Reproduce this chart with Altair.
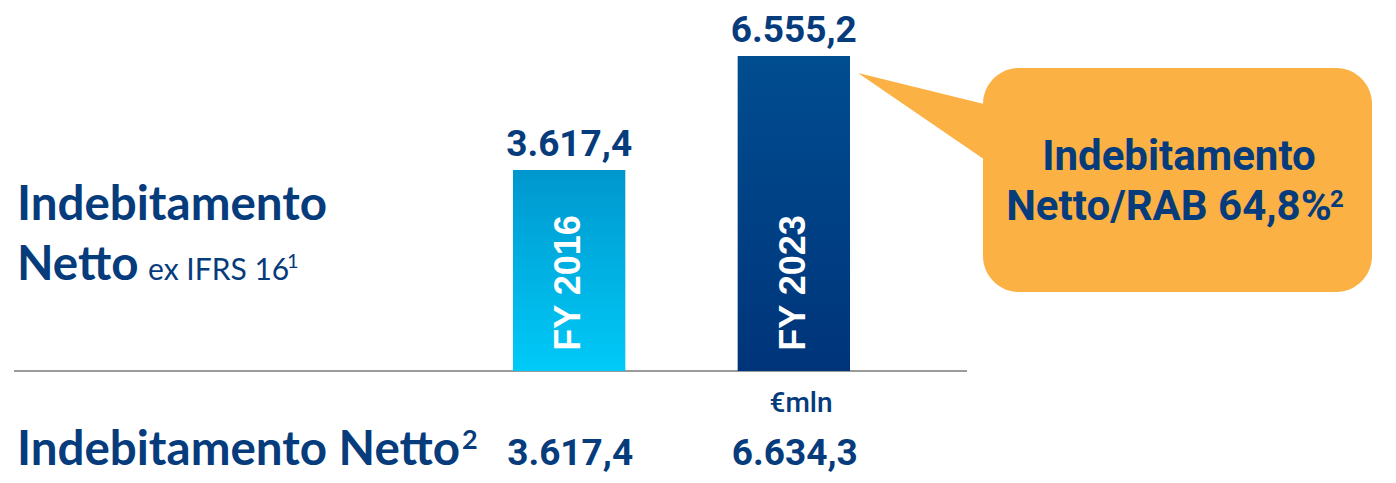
import altair as alt
import pandas as pd

# ---- data ----
periods = ["FY 2016", "FY 2023"]
net_debt_ex_ifrs16 = [3617.4, 6555.2]   # €mln, bars
net_debt = [3617.4, 6634.3]             # €mln, bottom row
ratio_label = "Netto/RAB 64,8%"

def it_fmt(v):
    s = f"{v:,.1f}"
    return s.replace(",", "X").replace(".", ",").replace("X", ".")

# value axis (not zero based in the original slide)
y_domain = [-4240, 7792]
axis_floor = -1562

df = pd.DataFrame({
    "period": periods,
    "value": net_debt_ex_ifrs16,
    "label": [it_fmt(v) for v in net_debt_ex_ifrs16],
    "bottom": [it_fmt(v) for v in net_debt],
    "floor": [axis_floor] * len(periods),
})

NAVY = "#063b7c"
ORANGE = "#fbb144"
W, H = 1380, 467

yscale = alt.Scale(domain=y_domain, zero=False, nice=False)
xs = alt.X("period:N", axis=None,
           scale=alt.Scale(domain=periods, range=[505, 842], paddingInner=0.5, paddingOuter=0))
ys = alt.Y("value:Q", axis=None, scale=yscale)

def grad(c0, c1):
    return {"gradient": "linear", "x1": 0, "x2": 0, "y1": 0, "y2": 1,
            "stops": [{"offset": 0, "color": c0}, {"offset": 1, "color": c1}]}

base = alt.Chart(df)
one = alt.Chart(pd.DataFrame({"k": [0]}))

bar16 = base.transform_filter(alt.datum.period == periods[0]).mark_bar(
    color=grad("#0097cd", "#00caf8")).encode(x=xs, y=ys, y2="floor:Q")
bar23 = base.transform_filter(alt.datum.period == periods[1]).mark_bar(
    color=grad("#004d90", "#00347a")).encode(x=xs, y=ys, y2="floor:Q")

rule = base.mark_rule(color="#9b9b9b", strokeWidth=2).encode(
    x=alt.value(6), x2=alt.value(959), y=alt.Y("floor:Q", axis=None, scale=yscale))

vals = base.mark_text(font="Roboto", fontWeight="bold", fontSize=37, color=NAVY, dy=-14,
                      baseline="alphabetic").encode(x=xs, y=ys, text="label:N")

inbar = base.mark_text(font="Liberation Sans", fontWeight="bold", fontSize=36, color="white",
                       angle=270, baseline="middle", align="center").encode(
    x=xs, y=alt.value(275), text="period:N")

bottom_vals = base.mark_text(font="Roboto", fontWeight="bold", fontSize=37, color=NAVY, dx=1,
                             baseline="alphabetic").encode(x=xs, y=alt.value(457), text="bottom:N")

def txt(s, x, y, size, weight="bold", font="Lato", align="left", color=NAVY):
    return one.mark_text(text=s, font=font, fontSize=size, fontWeight=weight, align=align,
                         baseline="alphabetic", color=color).encode(x=alt.value(x), y=alt.value(y))

left1 = txt("Indebitamento", 9, 212, 47.5)
left2 = txt("Netto", 9, 272, 47.5)
left2b = txt("ex IFRS 16", 140, 272, 30, weight="normal")
left2s = txt("1", 279, 260, 20, weight="normal")
left3 = txt("Indebitamento Netto", 9, 457, 47.5)
left3s = txt("2", 454, 441, 27)
unit = txt("€mln", 793, 404, 28, weight=500, font="Roboto", align="center")

callout_rect = one.mark_rect(color=ORANGE, cornerRadius=36).encode(
    x=alt.value(975), x2=alt.value(1364), y=alt.value(60), y2=alt.value(284))
pointer = one.mark_point(shape="M0,0L130,32L130,89Z", size=4, filled=True, opacity=1,
                         color=ORANGE, strokeWidth=0).encode(x=alt.value(850), y=alt.value(65))
c1 = txt("Indebitamento", 1171, 162, 42, font="Roboto", align="center")
c2 = txt(ratio_label, 1161, 212, 42, font="Roboto", align="center")
c2s = txt("2", 1322, 199, 24, font="Roboto")

chart = alt.layer(
    rule, bar16, bar23, vals, inbar, bottom_vals, left1, left2, left2b, left2s, left3, left3s, unit,
    pointer, callout_rect, c1, c2, c2s
).properties(width=W, height=H, padding=0, autosize="none", background="white"
).configure_view(stroke=None)

chart.save("out.html", embed_options={"renderer": "svg", "actions": False})
